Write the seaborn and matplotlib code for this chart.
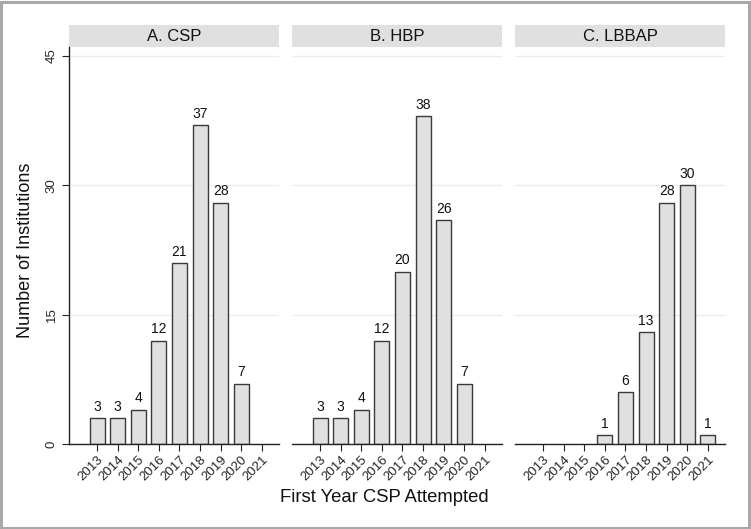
import numpy as np
import pandas as pd
import matplotlib
matplotlib.use('Agg')
import matplotlib.pyplot as plt
import seaborn as sns
from matplotlib.patches import Rectangle

sns.set_theme(style='white')
plt.rcParams['font.family'] = ['Liberation Sans', 'DejaVu Sans']

# data
years = ['2013', '2014', '2015', '2016', '2017', '2018', '2019', '2020', '2021']
panels = ['A. CSP', 'B. HBP', 'C. LBBAP']
csp = [3, 3, 4, 12, 21, 37, 28, 7, np.nan]
hbp = [3, 3, 4, 12, 20, 38, 26, 7, np.nan]
lbbap = [np.nan, np.nan, np.nan, 1, 6, 13, 28, 30, 1]

df = pd.DataFrame({
    'year': years * 3,
    'panel': np.repeat(panels, len(years)),
    'n': csp + hbp + lbbap,
})

fig = plt.figure(figsize=(7.51, 5.29), dpi=100)
W, H = 751, 529
lefts = [69, 292, 515]
ax_w = 210
ax_top, ax_bot = 47, 444

axes = []
for i, (left, name) in enumerate(zip(lefts, panels)):
    ax = fig.add_axes([left / W, (H - ax_bot) / H, ax_w / W, (ax_bot - ax_top) / H])
    sub = df[df['panel'] == name].dropna()
    sns.barplot(data=sub, x='year', y='n', order=years, ax=ax, width=0.73,
                color='#e0e0e0', edgecolor='#3a3a3a', linewidth=1.0, saturation=1)
    for c in ax.containers:
        ax.bar_label(c, fmt='%d', padding=3, fontsize=10, color='#111111')
    ax.set_xlim(-1.36, 8.83)
    ax.set_ylim(0, 46.05)
    ax.set_yticks([0, 15, 30, 45])
    ax.grid(axis='y', color='#e6efef', linewidth=1.0)
    ax.set_axisbelow(True)
    for s in ['top', 'right']:
        ax.spines[s].set_visible(False)
    ax.spines['bottom'].set_color('#222222')
    ax.spines['bottom'].set_linewidth(1.0)
    ax.tick_params(axis='x', bottom=True, length=5, width=0.8, color='#222222',
                   labelsize=9.5, pad=2)
    plt.setp(ax.get_xticklabels(), rotation=45, ha='right', rotation_mode='anchor')
    if i == 0:
        ax.spines['left'].set_color('#222222')
        ax.spines['left'].set_linewidth(1.0)
        ax.tick_params(axis='y', left=True, length=5, width=0.8, color='#222222',
                       labelsize=9.5, pad=3)
        plt.setp(ax.get_yticklabels(), rotation=90, va='center')
    else:
        ax.spines['left'].set_visible(False)
        ax.tick_params(axis='y', left=False, labelleft=False)
    ax.set_xlabel('')
    ax.set_ylabel('')
    # header strip
    hh = 22 / (ax_bot - ax_top)
    ax.add_patch(Rectangle((0, 1.0), 1, hh, transform=ax.transAxes,
                           facecolor='#e0e0e0', edgecolor='none', clip_on=False))
    ax.text(0.5, 1.0 + hh / 2, name, transform=ax.transAxes, ha='center',
            va='center', fontsize=12, color='#111111')
    axes.append(ax)

fig.text(384 / W, (H - 497) / H, 'First Year CSP Attempted', ha='center',
         va='center', fontsize=13.3, color='#111111')
fig.text(25 / W, (H - 250) / H, 'Number of Institutions', ha='center',
         va='center', rotation=90, fontsize=13, color='#111111')

# outer frame
fig.patches.append(Rectangle((0.0015, 0.002), 0.996, 0.995, transform=fig.transFigure,
                             fill=False, edgecolor='#a8a8a8', linewidth=2.2))

fig.savefig('out.png', dpi=100)
